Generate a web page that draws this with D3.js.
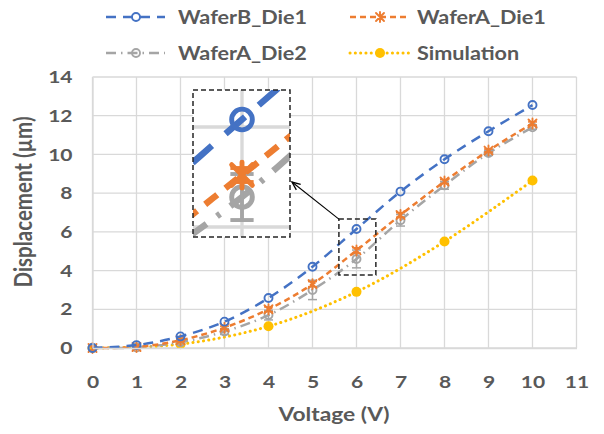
<!DOCTYPE html>
<html>
<head>
<meta charset="utf-8">
<script src="https://cdn.jsdelivr.net/npm/d3@7"></script>
<style>
  html, body { margin: 0; padding: 0; background: #fff; }
  svg { display: block; }
  text { font-family: Lato, "Open Sans", sans-serif; font-weight: bold; fill: #595959; }
</style>
</head>
<body>
<svg id="chart" width="604" height="434"></svg>
<script>
// Measured displacement vs. drive voltage
const volts = [0, 1, 2, 3, 4, 5, 6, 7, 8, 9, 10];
const waferB_Die1 = [0, 0.15, 0.6, 1.36, 2.58, 4.2, 6.15, 8.08, 9.75, 11.2, 12.55];
const waferA_Die1 = [0, 0.05, 0.4, 1.05, 2.0, 3.3, 5.04, 6.87, 8.6, 10.2, 11.6];
const waferA_Die1_err = [0, 0.03, 0.05, 0.08, 0.12, 0.13, 0.14, 0.12, 0.1, 0.08, 0.08];
const waferA_Die2 = [0, 0.03, 0.3, 0.85, 1.7, 3.0, 4.6, 6.6, 8.4, 10.07, 11.4];
const waferA_Die2_err = [0, 0.05, 0.08, 0.15, 0.25, 0.5, 0.46, 0.3, 0.2, 0.12, 0.1];
const simVolts = [0, 2, 4, 6, 8, 10];
const simulation = [0, 0.2, 1.12, 2.9, 5.5, 8.65];

const xTicks = [0, 1, 2, 3, 4, 5, 6, 7, 8, 9, 10, 11];
const yTicks = [0, 2, 4, 6, 8, 10, 12, 14];
const legendNames = ["WaferB_Die1", "WaferA_Die1", "WaferA_Die2", "Simulation"];

const svg = d3.select("#chart");
const x = d3.scaleLinear().domain([0, 11]).range([92.5, 576.5]);
const y = d3.scaleLinear().domain([0, 14]).range([348, 77]);

const C = { blue: "#4472C4", orange: "#ED7D31", gray: "#A5A5A5", yellow: "#FFC000", grid: "#D9D9D9" };
const SX = 1.2; // horizontal stretch of all lettering

const series = [
  { name: legendNames[0], xs: volts, ys: waferB_Die1, color: C.blue, dash: "10,7", marker: "ring" },
  { name: legendNames[1], xs: volts, ys: waferA_Die1, err: waferA_Die1_err, color: C.orange, dash: "6,4", marker: "star" },
  { name: legendNames[2], xs: volts, ys: waferA_Die2, err: waferA_Die2_err, color: C.gray, dash: "10,5,1.5,5", marker: "ring" },
  { name: legendNames[3], xs: simVolts, ys: simulation, color: C.yellow, dash: "0.1,5.2", marker: "dot", round: true }
];

function label(parent, tx, ty, str, size, anchor, rotate) {
  return parent.append("text")
    .attr("transform", `translate(${tx},${ty})${rotate ? " rotate(-90)" : ""} scale(${rotate ? 1 : SX},${rotate ? SX : 1})`)
    .attr("text-anchor", anchor || "start").attr("font-size", size).text(str);
}

function drawMarker(g, type, color, cx, cy) {
  if (type === "ring") {
    g.append("circle").attr("cx", cx).attr("cy", cy).attr("r", 4)
      .attr("fill", "none").attr("stroke", color).attr("stroke-width", 1.9);
  } else if (type === "dot") {
    g.append("circle").attr("cx", cx).attr("cy", cy).attr("r", 5).attr("fill", color);
  } else {
    const p = d3.path(), s = 4;
    p.moveTo(cx - s, cy - s); p.lineTo(cx + s, cy + s);
    p.moveTo(cx - s, cy + s); p.lineTo(cx + s, cy - s);
    p.moveTo(cx, cy - s - 1); p.lineTo(cx, cy + s + 1);
    g.append("path").attr("d", p.toString()).attr("fill", "none")
      .attr("stroke", color).attr("stroke-width", 1.9).attr("stroke-linecap", "round");
  }
}

const line = d3.line().curve(d3.curveCatmullRom.alpha(0.5));

// Grid plus all data marks, drawn in the main chart coordinate system
function drawPlot(g) {
  const grid = g.append("g").attr("stroke", C.grid).attr("stroke-width", 1.3);
  yTicks.forEach(t => grid.append("line").attr("x1", x(0)).attr("x2", x(11)).attr("y1", y(t)).attr("y2", y(t)));
  xTicks.forEach(t => grid.append("line").attr("x1", x(t)).attr("x2", x(t)).attr("y1", y(0)).attr("y2", y(14)));

  // draw order: simulation underneath, then measurements
  [series[3], series[2], series[1], series[0]].forEach(s => {
    const pts = s.xs.map((v, i) => [x(v), y(s.ys[i])]);
    g.append("path").attr("d", line(pts)).attr("fill", "none")
      .attr("stroke", s.color).attr("stroke-width", s.round ? 3 : 2.5)
      .attr("stroke-dasharray", s.dash).attr("stroke-linecap", s.round ? "round" : "butt");
    if (s.err) {
      const eg = g.append("g").attr("stroke", s.color).attr("stroke-width", 1.5);
      s.xs.forEach((v, i) => {
        const e = s.err[i]; if (e <= 0.02) return;
        const cx = x(v), y0 = y(s.ys[i] - e), y1 = y(s.ys[i] + e);
        eg.append("line").attr("x1", cx).attr("x2", cx).attr("y1", y0).attr("y2", y1);
        eg.append("line").attr("x1", cx - 4.5).attr("x2", cx + 4.5).attr("y1", y0).attr("y2", y0);
        eg.append("line").attr("x1", cx - 4.5).attr("x2", cx + 4.5).attr("y1", y1).attr("y2", y1);
      });
    }
    s.xs.forEach((v, i) => drawMarker(g, s.marker, s.color, x(v), y(s.ys[i])));
  });
}

drawPlot(svg.append("g"));

// Axes
const xAxis = svg.append("g").attr("transform", `translate(0,${y(0)})`)
  .call(d3.axisBottom(x).tickValues(xTicks).tickSize(0).tickPadding(28).tickFormat(d3.format("d")));
xAxis.select(".domain").attr("stroke", C.grid).attr("stroke-width", 1.3);
xAxis.selectAll("text").attr("font-size", 17.5).attr("fill", "#595959")
  .attr("transform", `scale(${SX},1)`)
  .style("font-family", "Lato, sans-serif").style("font-weight", "bold");

const yPad = 20;
const yAxis = svg.append("g").attr("transform", `translate(${x(0)},0)`)
  .call(d3.axisLeft(y).tickValues(yTicks).tickSize(0).tickPadding(yPad).tickFormat(d3.format("d")));
yAxis.select(".domain").attr("stroke", C.grid).attr("stroke-width", 1.3);
yAxis.selectAll("text").attr("font-size", 17.5).attr("fill", "#595959")
  .attr("x", -yPad / SX).attr("transform", `scale(${SX},1)`)
  .style("font-family", "Lato, sans-serif").style("font-weight", "bold");

label(svg, 334, 421, "Voltage (V)", 19, "middle");
label(svg, 32, 202, "Displacement (µm)", 20.5, "middle", true);

// Magnified inset around V = 6
const box = { x0: 193, y0: 90, x1: 290, y1: 237 };
const k = 2.584;
const anchorSrc = [x(6), y(6)], anchorDst = [242, 127];
const clip = svg.append("defs").append("clipPath").attr("id", "insetClip");
clip.append("rect").attr("x", box.x0).attr("y", box.y0).attr("width", box.x1 - box.x0).attr("height", box.y1 - box.y0);
const inset = svg.append("g").attr("clip-path", "url(#insetClip)");
inset.append("rect").attr("x", box.x0).attr("y", box.y0).attr("width", box.x1 - box.x0)
  .attr("height", box.y1 - box.y0).attr("fill", "#fff");
drawPlot(inset.append("g")
  .attr("transform", `translate(${anchorDst[0] - k * anchorSrc[0]},${anchorDst[1] - k * anchorSrc[1]}) scale(${k})`));
svg.append("rect").attr("x", box.x0).attr("y", box.y0).attr("width", box.x1 - box.x0)
  .attr("height", box.y1 - box.y0).attr("fill", "none").attr("stroke", "#262626")
  .attr("stroke-width", 1.5).attr("stroke-dasharray", "5,3");

// Source window on the main plot
const sx0 = x(5.6), sx1 = x(6.44), sy0 = y(6.66), sy1 = y(3.77);
svg.append("rect").attr("x", sx0).attr("y", sy0).attr("width", sx1 - sx0).attr("height", sy1 - sy0)
  .attr("fill", "none").attr("stroke", "#262626").attr("stroke-width", 1.5).attr("stroke-dasharray", "5,3");

// Arrow from the window to the inset
const ax = box.x1 + 2, ay = 182;
svg.append("line").attr("x1", sx0).attr("y1", sy0).attr("x2", ax).attr("y2", ay)
  .attr("stroke", "#000").attr("stroke-width", 1.1);
const ang = Math.atan2(sy0 - ay, sx0 - ax), hl = 9, hw = 0.4;
svg.append("path").attr("d", `M${ax + hl * Math.cos(ang - hw)},${ay + hl * Math.sin(ang - hw)}L${ax},${ay}L${ax + hl * Math.cos(ang + hw)},${ay + hl * Math.sin(ang + hw)}`)
  .attr("fill", "none").attr("stroke", "#000").attr("stroke-width", 1.3);

// Legend
const legendPos = [[106, 17], [350, 17], [106, 53], [350, 53]];
series.forEach((s, i) => {
  const [lx, ly] = legendPos[i];
  const lg = svg.append("g");
  lg.append("line").attr("x1", lx).attr("x2", lx + 59).attr("y1", ly).attr("y2", ly)
    .attr("stroke", s.color).attr("stroke-width", s.round ? 3 : 2.5)
    .attr("stroke-dasharray", s.dash).attr("stroke-linecap", s.round ? "round" : "butt");
  drawMarker(lg, s.marker, s.color, lx + 30, ly);
  label(lg, i % 2 ? 417 : 178, ly + 7, s.name, 18, "start");
});
</script>
</body>
</html>
